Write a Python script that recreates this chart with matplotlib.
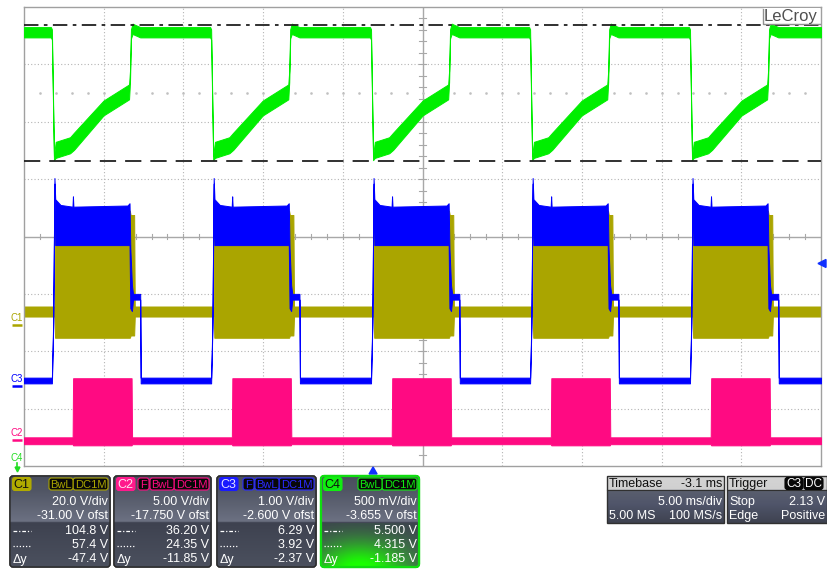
import numpy as np
import matplotlib
matplotlib.use('Agg')
import matplotlib.pyplot as plt
from matplotlib.patches import FancyBboxPatch, Rectangle, Polygon
from matplotlib.colors import to_rgb

plt.rcParams['font.family'] = ['Liberation Sans', 'DejaVu Sans']

# ---------------- data ----------------
time_per_div_ms = 5.0
n_div_x = 10
n_div_y = 8
timebase_delay_ms = -3.1
trigger_level_v = 2.13
cycle_starts_ms = [1.69, 11.68, 21.71, 31.69, 41.72]

volts_per_div = {'C1': 20.0, 'C2': 5.0, 'C3': 1.0, 'C4': 0.5}
offsets_v = {'C1': -31.0, 'C2': -17.75, 'C3': -2.6, 'C4': -3.655}
colors = {'C1': '#aaa500', 'C2': '#ff0a82', 'C3': '#0000ff', 'C4': '#00ee00'}

# C1 (olive) envelopes, volts; dt relative to each cycle start (ms)
c1_idle = (3.1, 6.6)
c1_dt = [0.22, 0.26, 4.95, 5.00, 5.22, 5.26]
c1_lo = [3.1, -4.3, -4.3, -3.5, -3.5, 3.1]
c1_hi = [6.6, 40.0, 40.0, 38.5, 38.5, 6.6]

# C2 (pink)
c2_idle = (-0.35, 0.25)
c2_dt = [1.36, 1.39, 5.06, 5.09]
c2_lo = [-0.35, -0.45, -0.45, -0.35]
c2_hi = [0.25, 5.40, 5.40, 0.25]

# C3 (blue)
c3_idle = (0.04, 0.14)
c3_dt = [0.06, 0.14, 0.22, 0.27, 0.60, 1.35, 1.38, 1.41, 4.80, 4.93, 4.98, 5.08, 5.15, 5.60, 5.63]
c3_lo = [0.04, 1.00, 3.52, 2.45, 2.45, 2.45, 2.45, 2.45, 2.45, 2.45, 1.35, 1.30, 1.50, 1.50, 0.04]
c3_hi = [0.14, 1.10, 3.62, 3.25, 3.15, 3.12, 3.30, 3.12, 3.14, 3.18, 2.40, 1.75, 1.60, 1.60, 0.14]

# C4 (green)
c4_idle = (5.39, 5.48)
c4_dt = [0.00, 0.06, 0.19, 0.30, 1.20, 1.45, 3.30, 4.90, 4.96, 5.02, 5.12, 5.60]
c4_lo = [5.39, 5.37, 4.32, 4.34, 4.38, 4.41, 4.71, 4.85, 5.00, 5.38, 5.42, 5.39]
c4_hi = [5.48, 5.46, 4.36, 4.48, 4.52, 4.56, 4.84, 4.98, 5.10, 5.46, 5.51, 5.48]

c4_cursors_v = [5.500, 4.315]

panel_channels = ['C1', 'C2', 'C3', 'C4']
panel_vdiv = ['20.0 V/div', '5.00 V/div', '1.00 V/div', '500 mV/div']
panel_ofst = ['-31.00 V ofst', '-17.750 V ofst', '-2.600 V ofst', '-3.655 V ofst']
panel_cur1 = ['104.8 V', '36.20 V', '6.29 V', '5.500 V']
panel_cur2 = ['57.4 V', '24.35 V', '3.92 V', '4.315 V']
panel_dy = ['-47.4 V', '-11.85 V', '-2.37 V', '-1.185 V']
panel_has_F = [False, True, True, False]

# ---------------- figure ----------------
W, H = 827, 569
L, R, T, B = 24, 821, 7, 466
fig = plt.figure(figsize=(W / 100, H / 100), dpi=100)
fig.patch.set_facecolor('white')
ax = fig.add_axes([L / W, 1 - B / H, (R - L) / W, (B - T) / H])
tmax = n_div_x * time_per_div_ms
ax.set_xlim(0, tmax)
ax.set_ylim(-n_div_y / 2, n_div_y / 2)
ax.set_xticks([]); ax.set_yticks([])
for s in ax.spines.values():
    s.set_color('#a0a0a0'); s.set_linewidth(1.0)

# grid
for k in range(1, n_div_x):
    x = k * time_per_div_ms
    if k == n_div_x // 2:
        ax.axvline(x, color='#a8a8a8', lw=1.0, zorder=1)
    else:
        ax.axvline(x, color='#b4b4b4', lw=0.8, ls=(0, (1, 2)), zorder=1)
for k in range(-3, 4):
    if k == 0:
        ax.axhline(0, color='#a8a8a8', lw=1.0, zorder=1)
    else:
        ax.axhline(k, color='#b4b4b4', lw=0.8, ls=(0, (1, 2)), zorder=1)
# minor ticks on centre cross
for i in range(1, int(tmax)):
    ax.plot([i, i], [-0.05, 0.05], color='#a8a8a8', lw=0.8, zorder=1)
for j in np.arange(-3.8, 4.0, 0.2):
    ax.plot([24.8, 25.2], [j, j], color='#a8a8a8', lw=0.8, zorder=1)
ax.plot(np.arange(1, int(tmax)), np.full(int(tmax) - 1, 2.5), ls='none', marker='s',
        ms=0.8, color='#c0c0c0', zorder=1)


def build(idle, dt, lo, hi):
    t = [0.0]; l = [idle[0]]; h = [idle[1]]
    for s in cycle_starts_ms:
        for d, a, b in zip(dt, lo, hi):
            t.append(s + d); l.append(a); h.append(b)
    t.append(tmax); l.append(idle[0]); h.append(idle[1])
    return np.array(t), np.array(l), np.array(h)


def to_div(v, ch):
    return (np.asarray(v) + offsets_v[ch]) / volts_per_div[ch]


traces = [('C1', c1_idle, c1_dt, c1_lo, c1_hi, 2),
          ('C3', c3_idle, c3_dt, c3_lo, c3_hi, 3),
          ('C2', c2_idle, c2_dt, c2_lo, c2_hi, 3),
          ('C4', c4_idle, c4_dt, c4_lo, c4_hi, 3)]
for ch, idle, dt, lo, hi, z in traces:
    t, l, h = build(idle, dt, lo, hi)
    ax.fill_between(t, to_div(l, ch), to_div(h, ch), facecolor=colors[ch],
                    edgecolor=colors[ch], lw=0.7, zorder=z)

# cursors
ax.axhline(to_div(c4_cursors_v[0], 'C4'), color='#202020', lw=1.3, ls=(0, (8, 3, 2, 3)), zorder=6)
ax.axhline(to_div(c4_cursors_v[1], 'C4'), color='#202020', lw=1.3, ls=(0, (9, 5)), zorder=6)

# ---------------- overlay (pixel coords) ----------------
ov = fig.add_axes([0, 0, 1, 1], zorder=5)
ov.set_facecolor('none')
ov.axis('off')


def px_y(div):
    return T + (n_div_y / 2 - div) * (B - T) / n_div_y


# channel ground markers
for ch in ['C1', 'C3', 'C2']:
    y = px_y(offsets_v[ch] / volts_per_div[ch])
    ov.text(17, y - 7, ch, ha='center', va='center', fontsize=7, color=colors[ch])
    ov.plot([12, 22], [y, y], color=colors[ch], lw=1.8, solid_capstyle='butt')
ov.text(17, 458, 'C4', ha='center', va='center', fontsize=7, color='#22dd22')
ov.plot([17, 17], [463, 468], color='#22dd22', lw=1.2)
ov.plot([17], [468.5], marker='v', ms=3.5, color='#22dd22')

# trigger level arrow (right) and trigger time marker (bottom)
ty = px_y((trigger_level_v + offsets_v['C3']) / volts_per_div['C3'])
ov.add_patch(Polygon([(818, ty), (826, ty - 4), (826, ty + 4)], closed=True, color='#1030ff'))
tx = L + (tmax / 2 + timebase_delay_ms) / tmax * (R - L)
ov.add_patch(Polygon([(tx - 4, 474), (tx + 4, 474), (tx, 467)], closed=True, color='#1030ff'))

# LeCroy logo
ov.add_patch(Rectangle((763, 8), 57, 16, fc='white', ec='none', zorder=3))
ov.plot([763, 763, 820], [9, 24, 24], color='#909090', lw=1.0, zorder=4)
ov.text(791, 16.5, 'LeCroy', ha='center', va='center', fontsize=12, color='#505050', zorder=5)


def grad(x0, y0, x1, y1, stops, clip):
    ys = np.linspace(0, 1, 128)
    pos = [p for p, c in stops]
    cols = np.array([to_rgb(c) for p, c in stops])
    img = np.stack([np.interp(ys, pos, cols[:, k]) for k in range(3)], axis=1)[:, None, :]
    im = ov.imshow(img, extent=(x0, x1, y1, y0), aspect='auto', interpolation='bilinear', zorder=2)
    im.set_clip_path(clip)
    return im


def badge(x0, x1, yc, text, fc, tc, ec, fs=8.0, h=12):
    ov.add_patch(FancyBboxPatch((x0, yc - h / 2), x1 - x0, h,
                                boxstyle='round,pad=0,rounding_size=2.5',
                                fc=fc, ec=ec, lw=0.8, zorder=6))
    ov.text((x0 + x1) / 2, yc + 0.5, text, ha='center', va='center', color=tc,
            fontsize=fs, zorder=7)


panel_x = [(10, 110), (114, 211), (217, 316), (321, 419)]
py0, py1, pdiv = 476, 567, 523
badge_col = {'C1': ('#b0aa00', '#101010'), 'C2': ('#ff1a8c', '#ffe0f0'),
             'C3': ('#1a1aff', '#e0e0ff'), 'C4': ('#10ee10', '#101010')}
for i, ch in enumerate(panel_channels):
    x0, x1 = panel_x[i]
    ec = '#10dd10' if ch == 'C4' else '#2a2a2a'
    frame = FancyBboxPatch((x0, py0), x1 - x0, py1 - py0, boxstyle='round,pad=0,rounding_size=3',
                           fc='#4a4f5e', ec=ec, lw=1.6 if ch == 'C4' else 1.0, zorder=1)
    ov.add_patch(frame)
    grad(x0, py0, x1, py1, [(0, '#4a4f5d'), (0.15, '#505564'), (0.5, '#6c7182'),
                            (0.51, '#3e4250'), (1.0, '#4b505e')], frame)
    if ch == 'C4':
        gx = np.linspace(x0, x1, 120)
        gy = np.linspace(pdiv, py1, 60)
        GX, GY = np.meshgrid(gx, gy)
        w = np.exp(-(((GX - 360) / 48) ** 2 + ((GY - 572) / 30) ** 2))
        rgba = np.zeros(GX.shape + (4,))
        rgba[..., 1] = 1.0
        rgba[..., 0] = 0.1
        rgba[..., 3] = np.clip(w * 1.1, 0, 1)
        im = ov.imshow(rgba, extent=(x0, x1, py1, pdiv), aspect='auto', interpolation='bilinear', zorder=2.5)
        im.set_clip_path(frame)
    ov.add_patch(FancyBboxPatch((x0, py0), x1 - x0, py1 - py0, boxstyle='round,pad=0,rounding_size=3',
                                fc='none', ec=ec, lw=1.6 if ch == 'C4' else 1.0, zorder=4))
    col = colors[ch] if ch != 'C4' else '#10ee10'
    if ch == 'C3':
        col = '#2a2aff'
    bfc, btc = badge_col[ch]
    badge(x0 + 2.5, x0 + 21, 484, ch, bfc, btc, bfc, fs=9, h=13)
    xr = x1 - 2
    badge(xr - 35, xr, 484, 'DC1M', '#080808', col, col)
    badge(xr - 59, xr - 35, 484, 'BwL', '#080808', col, col)
    if panel_has_F[i]:
        badge(xr - 71, xr - 60, 484, 'F', '#080808', col, col)
    rows = [(501.5, panel_vdiv[i]), (516, panel_ofst[i]), (531, panel_cur1[i]),
            (545.5, panel_cur2[i]), (559.5, panel_dy[i])]
    for y, s in rows:
        ov.text(xr, y, s, ha='right', va='center', fontsize=9, color='white', zorder=7)
    ov.plot([x0 + 3, x0 + 21], [531, 531], color='white', lw=0.9, ls=(0, (3, 1.5, 1, 1.5)), zorder=7)
    ov.plot([x0 + 3, x0 + 21], [545.5, 545.5], color='white', lw=0.9, ls=(0, (1, 1.5)), zorder=7)
    ov.text(x0 + 3, 559.5, '\u0394y', ha='left', va='center', fontsize=9, color='white', zorder=7)

# timebase / trigger panels
for (x0, x1, hl, hr, r1, r2l, r2r, r1l) in [
        (607, 724, 'Timebase', '-3.1 ms', '5.00 ms/div', '5.00 MS', '100 MS/s', ''),
        (727, 827, 'Trigger', '', '2.13 V', 'Edge', 'Positive', 'Stop')]:
    frame = Rectangle((x0, 476), x1 - x0, 47, fc='#4a4f5e', ec='none', zorder=1)
    ov.add_patch(frame)
    grad(x0, 476, x1, 523, [(0, '#d4d4d4'), (0.29, '#d0d0d0'), (0.3, '#5a5f6e'),
                            (0.6, '#50556a'), (1.0, '#3e4250')], frame)
    ov.add_patch(Rectangle((x0, 476), x1 - x0, 47, fc='none', ec='#303030', lw=1.0, zorder=4))
    ov.plot([x0, x1], [490, 490], color='#303030', lw=0.8, zorder=4)
    ov.text(x0 + 2, 483.5, hl, ha='left', va='center', fontsize=9, color='#101010', zorder=7)
    if hr:
        ov.text(x1 - 2, 483.5, hr, ha='right', va='center', fontsize=9, color='#101010', zorder=7)
    ov.text(x1 - 2, 501.5, r1, ha='right', va='center', fontsize=9, color='white', zorder=7)
    if r1l:
        ov.text(x0 + 2, 501.5, r1l, ha='left', va='center', fontsize=9, color='white', zorder=7)
    ov.text(x0 + 2, 516, r2l, ha='left', va='center', fontsize=9, color='white', zorder=7)
    ov.text(x1 - 2, 516, r2r, ha='right', va='center', fontsize=9, color='white', zorder=7)
badge(785, 803, 483.5, 'C3', '#080808', 'white', '#080808', fs=8.5)
badge(804, 823, 483.5, 'DC', '#080808', 'white', '#080808', fs=8.5)

ov.set_xlim(0, W)
ov.set_ylim(H, 0)

fig.savefig('out.png', dpi=100, facecolor='white')
